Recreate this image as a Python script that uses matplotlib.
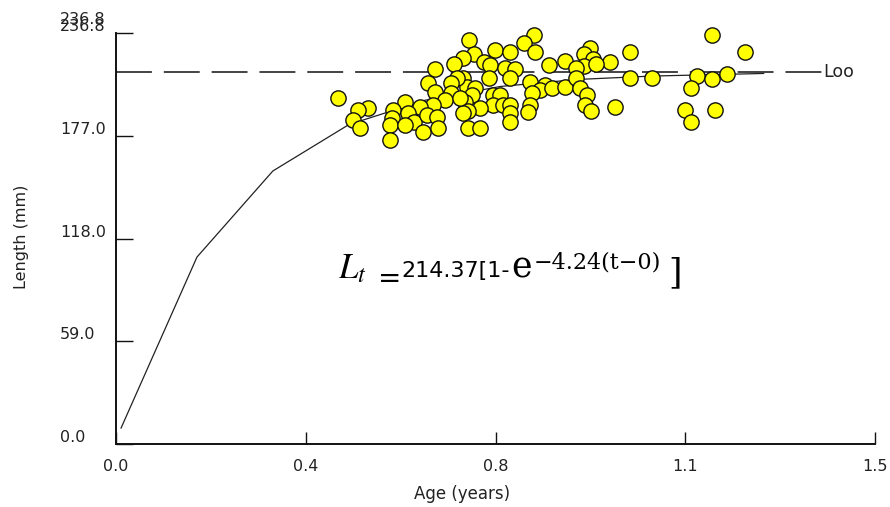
import matplotlib
matplotlib.use("Agg")
import matplotlib.pyplot as plt
import matplotlib.transforms as mtrans

ages = [1.177, 1.016, 1.244, 0.976, 1.016, 1.059, 1.148, 1.177, 1.207, 1.136,
        0.986, 1.125, 1.184, 1.136,
        0.826, 0.806, 0.828, 0.698, 0.749, 0.779, 0.708, 0.685, 0.727, 0.739,
        0.769, 0.789, 0.856, 0.887, 0.937, 0.925, 0.943, 0.924, 0.949, 0.910,
        0.738, 0.779, 0.686, 0.818, 0.848, 0.838, 0.822, 0.861, 0.887, 0.910,
        0.917, 0.930, 0.927, 0.938, 0.818, 0.814, 0.693, 0.709, 0.703, 0.690,
        0.746, 0.758, 0.746, 0.765, 0.779, 0.719, 0.696, 0.686, 0.779, 0.779,
        0.696, 0.719,
        0.667, 0.630, 0.617, 0.673, 0.663, 0.630, 0.663, 0.650, 0.680, 0.627,
        0.601, 0.571, 0.548, 0.578, 0.545, 0.542, 0.588, 0.571, 0.614, 0.634,
        0.607, 0.637, 0.542, 0.439, 0.499, 0.479, 0.469, 0.482]
lengths = [235.6, 225.6, 225.6, 220.2, 210.7, 210.7, 212.2, 210.3, 213.0, 205.2,
           194.3, 192.4, 192.4, 185.7,
           235.6, 230.8, 226.0, 232.7, 227.0, 226.0, 224.5, 222.5, 220.2, 218.3,
           216.8, 216.0, 218.3, 220.6, 227.9, 224.5, 221.8, 217.9, 218.7, 216.4,
           210.7, 210.7, 210.7, 208.7, 206.8, 203.9, 202.0, 204.9, 205.8, 210.7,
           204.9, 201.0, 195.3, 191.8, 195.3, 191.2, 205.8, 204.9, 201.0, 197.2,
           201.0, 201.0, 195.3, 195.3, 195.3, 193.4, 191.8, 190.7, 190.5, 185.7,
           182.2, 182.2,
           218.7, 216.0, 207.8, 210.7, 207.8, 202.9, 202.0, 198.2, 199.1, 195.3,
           194.3, 197.2, 192.4, 190.5, 187.6, 183.8, 185.7, 183.8, 189.5, 188.5,
           179.9, 181.9, 175.1, 199.1, 193.4, 192.4, 186.6, 181.9]

# fitted growth curve vertices
curve_age = [0.01, 0.16, 0.31, 0.46, 0.61, 0.76, 0.91, 1.06, 1.21, 1.28]
curve_len = [9.2, 107.7, 157.3, 184.0, 198.0, 206.0, 210.0, 212.0, 213.0, 213.5]

loo = 214.37
loo_end = 1.395

xticks = [0.0, 0.375, 0.75, 1.125, 1.5]
xtick_labels = ["0.0", "0.4", "0.8", "1.1", "1.5"]
yticks = [0.0, 59.2, 118.4, 177.6, 236.8]
ytick_labels = ["0.0", "59.0", "118.0", "177.0", "236.8"]

plt.rcParams['font.family'] = ['DejaVu Sans']
plt.rcParams['mathtext.fontset'] = 'stix'

W, H = 890, 507
fig = plt.figure(figsize=(W / 100, H / 100), dpi=100)


def fx(x):
    return x / W


def fy(y):
    return 1 - y / H


ax = fig.add_axes([fx(116), fy(444), (875 - 116) / W, (444 - 33) / H])
ax.set_xlim(0, 1.5)
ax.set_ylim(0, 236.8)
for s in ['top', 'right']:
    ax.spines[s].set_visible(False)
for s in ['left', 'bottom']:
    ax.spines[s].set_linewidth(1.4)
    ax.spines[s].set_color('#111111')

ax.set_xticks(xticks)
ax.set_xticklabels(xtick_labels)
ax.set_yticks(yticks)
ax.set_yticklabels(ytick_labels)
ax.tick_params(axis='y', direction='in', length=12.5, width=1.0, pad=40.3,
               labelsize=11.5, labelcolor='#222222', color='#111111')
ax.tick_params(axis='x', direction='in', length=8.5, width=1.0, pad=11,
               labelsize=11.5, labelcolor='#222222', color='#111111')
up = mtrans.ScaledTranslation(0, 8 / 100, fig.dpi_scale_trans)
for lab in ax.get_yticklabels():
    lab.set_transform(lab.get_transform() + up)
    lab.set_horizontalalignment('left')

# Loo line
ax.plot([0, loo_end], [loo, loo], color='#111111', lw=1.1,
        dashes=(23.5, 7.8), clip_on=False, zorder=2)
ax.text(loo_end + 0.002, loo, "Loo", fontsize=12.5, va='center', ha='left',
        color='#222222')

# growth curve
ax.plot(curve_age, curve_len, color='#222222', lw=0.9, zorder=2)

# observations
ax.plot(ages, lengths, 'o', ms=11, mfc='#FFFF00', mec='#111111', mew=1.0,
        clip_on=False, zorder=3, linestyle='none')

# axis labels
fig.text(fx(462), fy(494), "Age (years)", fontsize=12, ha='center',
         va='center', color='#222222')
fig.text(fx(22), fy(237), "Length (mm)", fontsize=11.5, ha='center',
         va='center', rotation=90, color='#222222')
# doubled top label
fig.text(fx(60), fy(20), "236.8", fontsize=11.5, ha='left', va='center',
         color='#222222')

# equation
fig.text(fx(338), fy(278), r"$L_t$", fontsize=25, ha='left', va='baseline')
fig.text(fx(378), fy(279), "=", fontsize=20, ha='left', va='center',
         family='DejaVu Serif')
fig.text(fx(401), fy(277), "214.37[1-", fontsize=16, ha='left',
         va='baseline')
fig.text(fx(511), fy(278), "e", fontsize=25, ha='left', va='baseline',
         family='DejaVu Serif')
fig.text(fx(534), fy(268), "\u22124.24(t\u22120)", fontsize=16, ha='left',
         va='baseline', family='DejaVu Serif')
fig.text(fx(668), fy(273), "]", fontsize=25, ha='left', va='center',
         family='DejaVu Serif')

fig.savefig("out.png", dpi=100)
